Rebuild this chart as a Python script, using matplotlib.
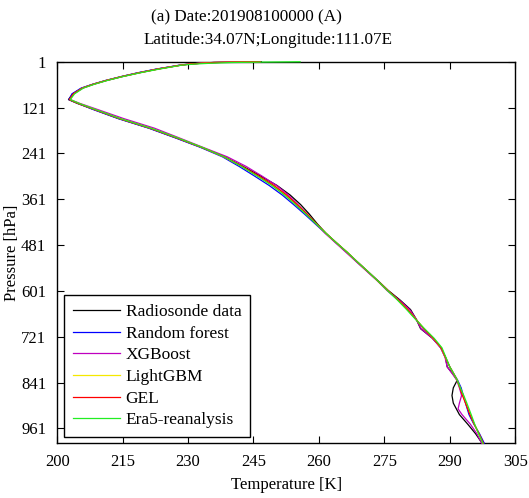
import matplotlib
matplotlib.use('Agg')
import matplotlib.pyplot as plt

plt.rcParams['font.family'] = ['Liberation Serif', 'DejaVu Serif']
plt.rcParams['font.size'] = 12

# pressure levels [hPa] shared by all profiles
pres = [1, 2, 3, 5, 7, 10, 20, 30, 40, 50, 60, 70, 85, 100, 110, 125, 150, 175,
        200, 225, 250, 275, 300, 325, 350, 375, 400, 425, 450, 475, 500, 525,
        550, 575, 600, 625, 650, 675, 700, 725, 750, 775, 800, 820, 835, 855,
        875, 895, 910, 925, 950, 975, 1000]

t_sonde = [246.8, 240.0, 236.0, 233.0, 230.5, 228.3, 223.0, 218.6, 214.7, 211.2,
           208.2, 205.7, 203.6, 202.6, 204.6, 208.2, 214.2, 221.2, 227.2, 233.0,
           238.4, 242.6, 246.6, 250.4, 253.4, 255.8, 257.8, 259.6, 261.6, 264.0,
           266.4, 268.7, 271.1, 273.6, 275.9, 278.6, 281.0, 282.3, 283.3, 286.0,
           288.0, 289.0, 289.4, 290.8, 291.7, 290.8, 290.5, 290.8, 291.5, 292.2,
           294.1, 295.9, 297.4]
t_rf = [246.2, 239.6, 235.6, 232.6, 230.1, 228.0, 222.8, 218.4, 214.6, 211.1,
        208.1, 205.5, 203.4, 202.7, 204.8, 208.0, 214.0, 221.0, 227.0, 232.8,
        237.9, 241.7, 245.2, 248.6, 251.6, 254.2, 256.7, 259.1, 261.5, 263.9,
        266.4, 268.8, 271.2, 273.5, 275.7, 278.1, 280.3, 282.2, 284.0, 286.1,
        287.9, 289.0, 290.0, 291.0, 291.8, 292.6, 293.1, 293.6, 294.0, 294.4,
        295.5, 296.8, 297.9]
t_xgb = [246.5, 239.8, 235.8, 232.8, 230.3, 228.2, 223.1, 218.8, 214.9, 211.4,
         208.4, 205.9, 203.8, 203.0, 205.2, 209.0, 215.3, 222.3, 227.9, 233.4,
         239.0, 243.3, 246.9, 250.3, 253.0, 255.2, 257.3, 259.3, 261.4, 263.8,
         266.2, 268.6, 271.0, 273.4, 275.6, 278.4, 280.8, 282.3, 283.4, 286.0,
         287.9, 288.9, 289.4, 290.7, 291.6, 292.2, 292.7, 292.2, 291.9, 292.8,
         294.7, 296.2, 297.3]
t_lgbm = [246.4, 239.8, 235.8, 232.8, 230.3, 228.3, 223.2, 218.8, 214.8, 211.3,
          208.3, 205.8, 203.8, 202.9, 204.9, 208.4, 214.4, 221.4, 227.4, 233.1,
          238.2, 242.3, 246.0, 249.5, 252.4, 254.9, 257.2, 259.4, 261.6, 264.0,
          266.5, 268.8, 271.2, 273.5, 275.8, 278.1, 280.3, 282.2, 284.1, 286.2,
          288.0, 289.0, 290.0, 291.0, 291.7, 292.4, 293.0, 293.7, 294.2, 294.7,
          295.6, 296.6, 297.6]
t_gel = [246.6, 239.9, 235.9, 232.9, 230.4, 228.3, 223.2, 218.8, 214.8, 211.3,
         208.3, 205.8, 203.7, 202.8, 204.8, 208.3, 214.3, 221.3, 227.3, 233.1,
         238.3, 242.4, 246.2, 249.7, 252.6, 255.0, 257.3, 259.4, 261.6, 264.0,
         266.5, 268.8, 271.2, 273.5, 275.8, 278.2, 280.4, 282.2, 284.0, 286.2,
         288.0, 289.0, 290.0, 291.0, 291.7, 292.3, 292.9, 293.6, 294.1, 294.6,
         295.6, 296.7, 297.7]
t_era5 = [255.7, 246.0, 240.0, 235.0, 231.5, 228.5, 223.5, 219.0, 215.0, 211.5,
          208.5, 206.0, 204.0, 203.0, 205.0, 208.5, 214.5, 221.5, 227.5, 233.2,
          238.3, 242.2, 245.8, 249.2, 252.1, 254.6, 257.0, 259.3, 261.6, 264.0,
          266.5, 268.8, 271.2, 273.5, 275.7, 278.0, 280.1, 282.1, 284.2, 286.4,
          288.2, 289.1, 290.0, 291.0, 291.7, 292.4, 293.2, 293.9, 294.4, 294.9,
          295.7, 296.6, 297.6]

series = [
    (t_sonde, 'k', 'Radiosonde data'),
    (t_rf, 'b', 'Random forest'),
    (t_xgb, 'm', 'XGBoost'),
    (t_lgbm, '#f5e800', 'LightGBM'),
    (t_gel, 'r', 'GEL'),
    (t_era5, '#22ee22', 'Era5-reanalysis'),
]

fig = plt.figure(figsize=(5.29, 4.98), dpi=100)
ax = fig.add_axes([0.108, 0.110, 0.866, 0.766])

for t, c, name in series:
    ax.plot(t, pres, color=c, lw=0.9, label=name, zorder=3, clip_on=False)

ax.set_xlim(200, 305)
ax.set_ylim(1000, 1)
ax.set_xticks([200, 215, 230, 245, 260, 275, 290, 305])
ax.set_yticks([1, 121, 241, 361, 481, 601, 721, 841, 961])
ax.tick_params(direction='in', length=5, top=True, right=True, pad=8)
for s in ax.spines.values():
    s.set_linewidth(1.0)

ax.set_xlabel('Temperature [K]', labelpad=5)
ax.set_ylabel('Pressure [hPa]')
ax.yaxis.set_label_coords(-0.08, 0.5)

fig.text(246 / 529, 1 - 17 / 498, '(a) Date:201908100000 (A)', ha='center', va='center', fontsize=12.3)
fig.text(268 / 529, 1 - 40 / 498, 'Latitude:34.07N;Longitude:111.07E', ha='center', va='center', fontsize=12.3)

leg = ax.legend(loc='lower left', bbox_to_anchor=(0.015, 0.016), borderaxespad=0,
                fancybox=False, edgecolor='k', framealpha=1, fontsize=12.5,
                handlelength=2.7, handletextpad=0.35, labelspacing=0.32,
                borderpad=0.5)
leg.get_frame().set_linewidth(1.0)

fig.savefig('out.png', dpi=100)
